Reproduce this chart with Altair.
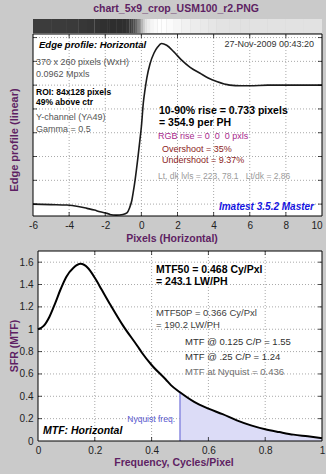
import altair as alt
import pandas as pd

# ---------------- data ----------------
TITLE = "chart_5x9_crop_USM100_r2.PNG"

# Edge profile (normalised: dark level = 0, light level = 1)
edge_px = [-6, -5, -4.12, -3.5, -3.01, -2.6, -2.29, -1.9, -1.74, -1.4,
           -1.02, -0.8, -0.65, -0.53, -0.45, -0.35, -0.2, -0.08, 0.0, 0.107,
           0.2, 0.3, 0.48, 0.7, 0.9, 1.12, 1.4, 1.8, 2.23, 2.7,
           3.25, 3.7, 4.17, 4.9, 5.5, 6, 7, 8, 9, 10]
edge_val = [0.0, -0.004, -0.008, -0.02, -0.036, -0.05, -0.065, -0.078, -0.087, -0.093,
            -0.087, -0.073, -0.03, 0.03, 0.1, 0.2, 0.38, 0.54, 0.65, 0.85,
            0.96, 1.06, 1.18, 1.27, 1.32, 1.35, 1.335, 1.28, 1.21, 1.15,
            1.10, 1.06, 1.03, 1.0, 0.995, 0.995, 1.0, 1.0, 1.0, 1.0]

# MTF curve
mtf_freq = [0, 0.02, 0.04, 0.06, 0.08, 0.1, 0.125, 0.15, 0.175, 0.2,
            0.225, 0.25, 0.3, 0.35, 0.366, 0.4, 0.45, 0.468, 0.5, 0.55,
            0.6, 0.65, 0.7, 0.75, 0.8, 0.85, 0.9, 0.95, 1.0]
mtf_val = [1.0, 1.03, 1.11, 1.23, 1.36, 1.47, 1.55, 1.585, 1.55, 1.46,
           1.35, 1.24, 1.03, 0.85, 0.79, 0.68, 0.55, 0.50, 0.436, 0.35,
           0.29, 0.24, 0.185, 0.14, 0.105, 0.08, 0.057, 0.042, 0.025]

edge_xticks = [-6, -4, -2, 0, 2, 4, 6, 8, 10]
edge_yticks = [0, 0.2, 0.4, 0.6, 0.8, 1.0, 1.2, 1.4]
mtf_xticks = [0, 0.2, 0.4, 0.6, 0.8, 1]
mtf_yticks = [0, 0.2, 0.4, 0.6, 0.8, 1, 1.2, 1.4, 1.6]
nyquist_freq = 0.5
mtf_at_nyquist = 0.436

# ---------------- layout / style ----------------
W, H = 326, 474
FONT = "Liberation Sans"
PURPLE = "#5e1f63"
BG = "#cacaca"
GRID = "#a9a9a9"

TOP_XDOM, TOP_XRNG = [-6, 10], [33, 322]
TOP_YDOM, TOP_YRNG = [-0.1, 1.43], [216, 34]
BOT_XDOM, BOT_XRNG = [0, 1], [38, 322]
BOT_YDOM, BOT_YRNG = [0, 1.7], [441, 251]
STRIP_Y = (19, 33)

xs_top = alt.Scale(domain=TOP_XDOM, range=TOP_XRNG, nice=False, zero=False)
ys_top = alt.Scale(domain=TOP_YDOM, range=TOP_YRNG, nice=False, zero=False)
xs_bot = alt.Scale(domain=BOT_XDOM, range=BOT_XRNG, nice=False, zero=False)
ys_bot = alt.Scale(domain=BOT_YDOM, range=BOT_YRNG, nice=False, zero=False)

lab = dict(labelFont=FONT, labelFontSize=10, labelColor="#222222",
           ticks=False, domain=False, grid=False, labelFlush=False,
           labelOverlap=False)
ax_top_x = alt.Axis(orient="bottom", offset=TOP_YRNG[0] - H, values=edge_xticks,
                    labelExpr="'' + datum.value", labelPadding=4,
                    labelAlign={"condition": {"test": "datum.value == 10", "value": "right"},
                                "value": "center"},
                    **lab)
ax_bot_x = alt.Axis(orient="bottom", offset=BOT_YRNG[0] - H, values=mtf_xticks,
                    format="~g", labelPadding=4, **lab)
ax_bot_y = alt.Axis(orient="left", offset=-BOT_XRNG[0], values=mtf_yticks,
                    format="~g", labelPadding=5, **lab)


def panel(xdom, ydom, xticks, yticks, xs, ys, axx, axy):
    X = lambda f: alt.X(f, type="quantitative", scale=xs, axis=axx, title=None)
    Y = lambda f: alt.Y(f, type="quantitative", scale=ys, axis=axy, title=None)
    frame = pd.DataFrame({"x0": [xdom[0]], "x1": [xdom[1]], "y0": [ydom[0]], "y1": [ydom[1]]})
    inner_x = [v for v in xticks if xdom[0] < v < xdom[1]]
    inner_y = [v for v in yticks if ydom[0] < v < ydom[1]]
    vx = pd.DataFrame({"v": inner_x, "y0": ydom[0], "y1": ydom[1]})
    hy = pd.DataFrame({"v": inner_y, "x0": xdom[0], "x1": xdom[1]})
    bg = alt.Chart(frame).mark_rect(fill="white").encode(
        x=X("x0"), x2="x1", y=Y("y0"), y2="y1")
    gv = alt.Chart(vx).mark_rule(color=GRID, strokeDash=[1, 2], strokeWidth=1).encode(
        x=X("v"), y=Y("y0"), y2="y1")
    gh = alt.Chart(hy).mark_rule(color=GRID, strokeDash=[1, 2], strokeWidth=1).encode(
        y=Y("v"), x=X("x0"), x2="x1")
    tb = alt.Chart(vx).mark_tick(orient="vertical", size=4, thickness=1, color="black",
                                 yOffset=-2).encode(x=X("v"), y=Y("y0"))
    tt = alt.Chart(vx).mark_tick(orient="vertical", size=4, thickness=1, color="black",
                                 yOffset=2).encode(x=X("v"), y=Y("y1"))
    tl = alt.Chart(hy).mark_tick(orient="horizontal", size=4, thickness=1, color="black",
                                 xOffset=2).encode(y=Y("v"), x=X("x0"))
    tr = alt.Chart(hy).mark_tick(orient="horizontal", size=4, thickness=1, color="black",
                                 xOffset=-2).encode(y=Y("v"), x=X("x1"))
    border = alt.Chart(frame).mark_rect(fillOpacity=0, stroke="black", strokeWidth=1).encode(
        x=X("x0"), x2="x1", y=Y("y0"), y2="y1")
    return X, Y, [bg, gv, gh], [tb, tt, tl, tr, border]


# ---------- top panel: edge profile ----------
edge_df = pd.DataFrame({"px": edge_px, "val": edge_val})
Xt, Yt, top_under, top_over = panel(TOP_XDOM, TOP_YDOM, edge_xticks, edge_yticks,
                                    xs_top, ys_top, ax_top_x, None)
strip_df = pd.DataFrame({
    "x0": edge_px[:-1], "x1": edge_px[1:],
    "v": [(a + b) / 2 for a, b in zip(edge_val[:-1], edge_val[1:])],
})
strip = alt.Chart(strip_df).mark_rect().encode(
    x=Xt("x0"), x2="x1",
    y=alt.value(STRIP_Y[0]), y2=alt.value(STRIP_Y[1]),
    color=alt.Color("v:Q", legend=None,
                    scale=alt.Scale(domain=[-0.1, 0, 1.0, 1.35],
                                    range=["#2c2c2c", "#3c3c3c", "#e2e2e2", "#ffffff"])),
)
edge_line = alt.Chart(edge_df).mark_line(color="#1a1a1a", strokeWidth=1.6,
                                         interpolate="monotone").encode(
    x=Xt("px"), y=Yt("val"))
top = alt.layer(*top_under, edge_line, *top_over, strip)

# ---------- bottom panel: MTF ----------
mtf_df = pd.DataFrame({"f": mtf_freq, "m": mtf_val})
Xb, Yb, bot_under, bot_over = panel(BOT_XDOM, BOT_YDOM, mtf_xticks, mtf_yticks,
                                    xs_bot, ys_bot, ax_bot_x, ax_bot_y)
nyq_area = alt.Chart(mtf_df).transform_filter(alt.datum.f >= nyquist_freq).mark_area(
    color="#dcdcf7", interpolate="monotone").encode(x=Xb("f"), y=Yb("m"))
nyq_df = pd.DataFrame({"f": [nyquist_freq], "y0": [0.0], "y1": [mtf_at_nyquist]})
nyq_rule = alt.Chart(nyq_df).mark_rule(color="#8a8ae0", strokeWidth=1.5).encode(
    x=Xb("f"), y=Yb("y0"), y2="y1")
mtf_line = alt.Chart(mtf_df).mark_line(color="black", strokeWidth=2,
                                       interpolate="monotone").encode(
    x=Xb("f"), y=Yb("m"))
bottom = alt.layer(*bot_under, nyq_area, nyq_rule, mtf_line, *bot_over)

# ---------- text annotations ----------
# (text, x, y, size, weight, style, color, align, angle)
ANNOT = [
    (TITLE, 176, 9, 10.5, "bold", "normal", PURPLE, "center", 0),
    ("Pixels (Horizontal)", 172, 239, 10.5, "bold", "normal", PURPLE, "center", 0),
    ("Edge profile (linear)", 15, 140, 11, "bold", "normal", PURPLE, "center", 270),
    ("Frequency, Cycles/Pixel", 174, 463, 10.5, "bold", "normal", PURPLE, "center", 0),
    ("SFR (MTF)", 15, 346, 10.5, "bold", "normal", PURPLE, "center", 270),
    ("Edge profile: Horizontal", 39, 45, 9.5, "bold", "italic", "black", "left", 0),
    ("27-Nov-2009 00:43:20", 314, 44, 9, "normal", "normal", "#333333", "right", 0),
    ("370 x 260 pixels (WxH)", 36, 62, 9, "normal", "normal", "#555555", "left", 0),
    ("0.0962 Mpxls", 36, 74, 9, "normal", "normal", "#555555", "left", 0),
    ("ROI:  84x128 pixels", 36, 92, 8.5, "bold", "normal", "black", "left", 0),
    ("49% above ctr", 36, 102, 8.5, "bold", "normal", "black", "left", 0),
    ("Y-channel  (YA49)", 36, 117, 9, "normal", "normal", "#555555", "left", 0),
    ("Gamma = 0.5", 36, 129, 9, "normal", "normal", "#555555", "left", 0),
    ("10-90% rise = 0.733 pixels", 159, 111, 10.5, "bold", "normal", "black", "left", 0),
    ("= 354.9 per PH", 159, 123, 10.5, "bold", "normal", "black", "left", 0),
    ("RGB rise = 0\u00a0 0\u00a0 0 pxls", 158, 136, 9, "normal", "normal", "#a8288c", "left", 0),
    ("Overshoot = 35%", 162, 149, 9, "normal", "normal", "#8b1c1c", "left", 0),
    ("Undershoot = 9.37%", 162, 160, 9, "normal", "normal", "#8b1c1c", "left", 0),
    ("Lt, dk lvls = 223, 78.1\u00a0\u00a0 Lt/dk = 2.86", 158, 176, 8.5, "normal", "normal", "#9a9a9a", "left", 0),
    ("Imatest 3.5.2 Master", 314, 207, 10, "bold", "italic", "#1414e0", "right", 0),
    ("MTF50 = 0.468 Cy/Pxl", 156, 270, 10.5, "bold", "normal", "black", "left", 0),
    ("= 243.1 LW/PH", 156, 282, 10.5, "bold", "normal", "black", "left", 0),
    ("MTF50P = 0.366 Cy/Pxl", 156, 313, 9.5, "normal", "normal", "#404040", "left", 0),
    ("= 190.2 LW/PH", 156, 325, 9.5, "normal", "normal", "#404040", "left", 0),
    ("MTF @ 0.125 C/P = 1.55", 185, 342, 9.5, "normal", "normal", "#303030", "left", 0),
    ("MTF @ .25 C/P = 1.24", 185, 357, 9.5, "normal", "normal", "#303030", "left", 0),
    ("MTF at Nyquist = 0.436", 185, 372, 9.5, "normal", "normal", "#707070", "left", 0),
    ("MTF: Horizontal", 43, 431, 10.5, "bold", "italic", "black", "left", 0),
    ("Nyquist freq.", 175, 419, 8.5, "normal", "normal", "#5a5ad0", "right", 0),
]

texts = []
for t, x, y, s, wgt, sty, col, al, ang in ANNOT:
    kw = dict(align=al, baseline="middle", font=FONT, fontSize=s, fontWeight=wgt,
              fontStyle=sty, color=col)
    if ang:
        kw["angle"] = ang
    texts.append(
        alt.Chart(pd.DataFrame({"t": [t]})).mark_text(**kw).encode(
            text="t:N", x=alt.value(x), y=alt.value(y))
    )

chart = alt.layer(top, bottom, *texts).resolve_scale(
    x="independent", y="independent", color="independent"
).properties(
    width=W, height=H, padding=0, background=BG,
    autosize=alt.AutoSizeParams(type="none"),
).configure_view(stroke=None)

chart.save("out.html", embed_options={"renderer": "svg", "actions": False})
